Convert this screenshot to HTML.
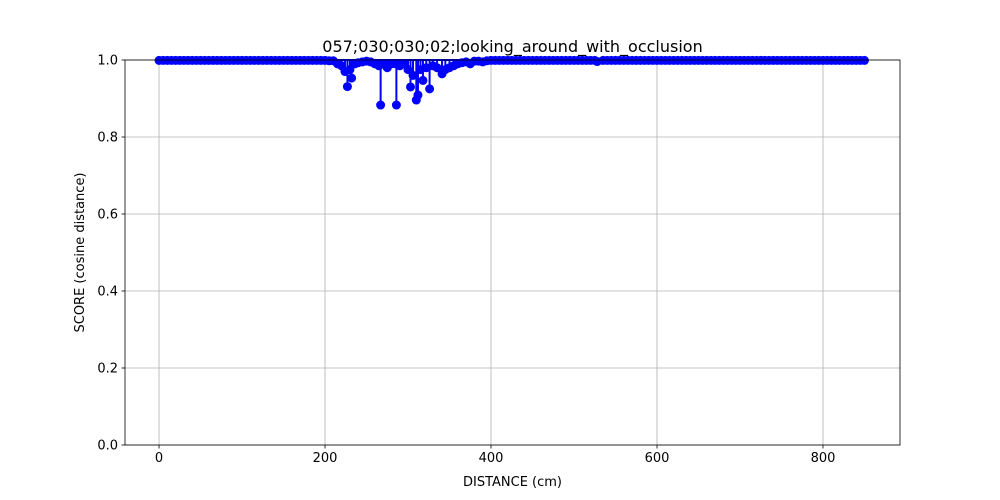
<!DOCTYPE html>
<html><head><meta charset="utf-8"><style>body{margin:0;background:#fff}svg{display:block}text{font-family:"DejaVu Sans","Liberation Sans",sans-serif}</style></head>
<body>
<svg id="chart" width="1000" height="500"></svg>
<script>
const distances=[0,5,10,15,20,25,30,35,40,45,50,55,60,65,70,75,80,85,90,95,100,105,110,115,120,125,130,135,140,145,150,155,160,165,170,175,180,185,190,195,200,205,210,
215,220,224,227,230,232,236,240,245,250,255,260,265,267,270,275,280,285,286,290,295,300,303,306,310,312,315,318,322,326,330,335,341,345,350,355,360,365,370,375,380,385,390,
395,400,405,410,415,420,425,430,435,440,445,450,455,460,465,470,475,480,485,490,495,500,505,510,515,520,525,528,535,540,545,550,555,560,565,570,575,580,585,590,595,600,605,610,615,620,625,630,635,640,645,650,655,660,665,670,675,680,685,690,695,700,705,710,715,720,725,730,735,740,745,750,755,760,765,770,775,780,785,790,795,800,805,810,815,820,825,830,835,840,845,850];
const scores=[0.999,0.999,0.999,0.999,0.999,0.999,0.999,0.999,0.999,0.999,0.999,0.999,0.999,0.999,0.999,0.999,0.999,0.999,0.999,0.999,0.999,0.999,0.999,0.999,0.999,0.999,0.999,0.999,0.999,0.999,0.999,0.999,0.999,0.999,0.999,0.999,0.999,0.999,0.999,0.999,0.999,0.998,0.998,
0.99,0.985,0.97,0.931,0.975,0.953,0.99,0.993,0.995,0.997,0.995,0.99,0.985,0.883,0.99,0.98,0.99,0.99,0.883,0.985,0.99,0.975,0.93,0.96,0.896,0.909,0.975,0.947,0.98,0.925,0.985,0.98,0.964,0.975,0.98,0.985,0.99,0.993,0.995,0.99,0.997,0.997,0.995,
0.998,0.999,0.999,0.999,0.999,0.999,0.999,0.999,0.999,0.999,0.999,0.999,0.999,0.999,0.999,0.999,0.999,0.999,0.999,0.999,0.999,0.999,0.999,0.999,0.999,0.999,0.999,0.996,0.999,0.999,0.999,0.999,0.999,0.999,0.999,0.999,0.999,0.999,0.999,0.999,0.999,0.999,0.999,0.999,0.999,0.999,0.999,0.999,0.999,0.999,0.999,0.999,0.999,0.999,0.999,0.999,0.999,0.999,0.999,0.999,0.999,0.999,0.999,0.999,0.999,0.999,0.999,0.999,0.999,0.999,0.999,0.999,0.999,0.999,0.999,0.999,0.999,0.999,0.999,0.999,0.999,0.999,0.999,0.999,0.999,0.999,0.999,0.999,0.999,0.999,0.999,0.999,0.999,0.999];
const xTicks=[0,200,400,600,800];
const yTicks=[0.0,0.2,0.4,0.6,0.8,1.0];
const L=125,R=900,T=60,B=445,xmin=-41,xmax=892.8;
const sx=v=>L+(v-xmin)/(xmax-xmin)*(R-L);
const sy=v=>B-v*(B-T);
const svg=document.getElementById('chart');const NS='http://www.w3.org/2000/svg';
function el(t,a,txt){const e=document.createElementNS(NS,t);for(const k in a)e.setAttribute(k,a[k]);if(txt!==undefined)e.textContent=txt;svg.appendChild(e);return e;}
xTicks.forEach(v=>{const x=sx(v);
const g=el('line',{x1:x,x2:x,y1:T,y2:B,stroke:'#b0b0b0','stroke-width':0.8});

const t=el('line',{x1:x,x2:x,y1:B,y2:B+3.5,stroke:'#000','stroke-width':0.8});

const l=el('text',{x:x,y:B+17,'text-anchor':'middle','font-size':13},String(v));
});
yTicks.forEach(v=>{const y=sy(v);
const g=el('line',{x1:L,x2:R,y1:y,y2:y,stroke:'#b0b0b0','stroke-width':0.8});

const t=el('line',{x1:L-3.5,x2:L,y1:y,y2:y,stroke:'#000','stroke-width':0.8});

const l=el('text',{x:L-7,y:y+4.5,'text-anchor':'end','font-size':13},v.toFixed(1));
});
distances.forEach((v,i)=>{const s=el('line',{x1:sx(v),x2:sx(v),y1:sy(1),y2:sy(scores[i]),stroke:'#0000ff','stroke-width':2});
});
const bl=el('line',{x1:sx(distances[0]),x2:sx(distances[distances.length-1]),y1:sy(1),y2:sy(1),stroke:'#0000ff','stroke-width':2});

distances.forEach((v,i)=>{const c=el('circle',{cx:sx(v),cy:sy(scores[i]),r:4.5,fill:'#0000ff'});
});
const fr=el('rect',{x:L,y:T,width:R-L,height:B-T,fill:'none',stroke:'#000','stroke-width':0.8});

const ti=el('text',{x:(L+R)/2,y:52,'text-anchor':'middle','font-size':16},'057;030;030;02;looking_around_with_occlusion');

const xl=el('text',{x:(L+R)/2,y:486,'text-anchor':'middle','font-size':13},'DISTANCE (cm)');

const yl=el('text',{x:84,y:(T+B)/2,'text-anchor':'middle','font-size':13,transform:'rotate(-90 84 '+(T+B)/2+')'},'SCORE (cosine distance)');

</script>
</body></html>
